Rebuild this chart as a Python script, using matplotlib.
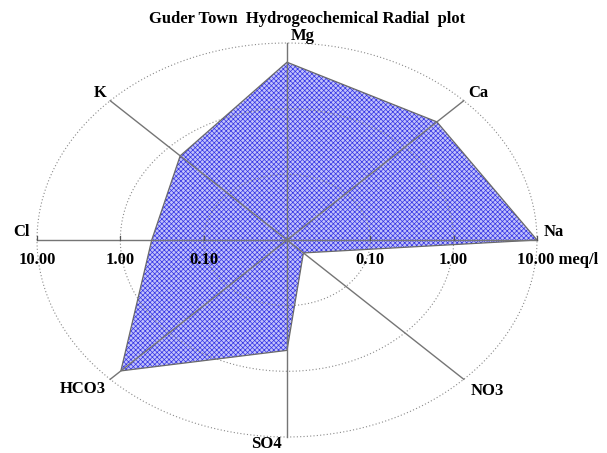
import numpy as np
import matplotlib.pyplot as plt
from matplotlib.patches import Polygon

# ion concentrations (meq/l), one spoke per ion
ions = ["Na", "Ca", "Mg", "K", "Cl", "HCO3", "SO4", "NO3"]
angles_deg = [0, 45, 90, 135, 180, 225, 270, 315]
conc = [10.0, 3.5, 5.1, 0.65, 0.42, 6.6, 0.48, 0.019]

tick_values = [0.10, 1.00, 10.00]
LOG_MIN = -2  # radius 0 sits at 0.01 meq/l


def to_radius(v):
    # log scale radius, one unit per decade
    return np.log10(v) - LOG_MIN


plt.rcParams['font.family'] = ['Liberation Serif', 'DejaVu Serif']
plt.rcParams['font.weight'] = 'bold'
plt.rcParams['hatch.linewidth'] = 0.5

FS = 12

fig = plt.figure(figsize=(6.07, 4.53), dpi=100)
ax = fig.add_axes([0, 0, 1, 1])
ax.set_xlim(-3.444, 3.84)
ax.set_ylim(-3.244, 3.655)
ax.axis('off')

theta = np.radians(angles_deg)
r = to_radius(np.array(conc))
xs = r * np.cos(theta)
ys = r * np.sin(theta)

# hatched blue fill + grey outline
fill = Polygon(np.column_stack([xs, ys]), closed=True, facecolor='#c2c2fb',
               edgecolor='#3434e4', hatch='xxxxxxx', linewidth=0, zorder=1)
ax.add_patch(fill)
outline = Polygon(np.column_stack([xs, ys]), closed=True, fill=False,
                  edgecolor='#6a6a6a', linewidth=0.9, zorder=3)
ax.add_patch(outline)

# dotted rings at each decade
t = np.linspace(0, 2 * np.pi, 400)
for tv in tick_values:
    rr = to_radius(tv)
    ax.plot(rr * np.cos(t), rr * np.sin(t), linestyle=(0, (1, 2)),
            color='#8a8a8a', linewidth=0.8, zorder=2)

# spokes
rmax = to_radius(tick_values[-1])
for a in theta:
    ax.plot([0, rmax * np.cos(a)], [0, rmax * np.sin(a)],
            color='#757575', linewidth=1.0, zorder=4)

# tick marks on the horizontal axis
for tv in tick_values:
    rr = to_radius(tv)
    for sgn in (1, -1):
        ax.plot([sgn * rr, sgn * rr], [0, 0.06], color='#555555',
                linewidth=0.9, zorder=4)

# tick labels below the horizontal axis
for tv in tick_values:
    rr = to_radius(tv)
    ax.text(-rr, -0.31, f"{tv:.2f}", ha='center', va='center', fontsize=FS)
    if tv < tick_values[-1]:
        ax.text(rr, -0.31, f"{tv:.2f}", ha='center', va='center', fontsize=FS)
ax.text(rmax - 0.24, -0.31, f"{tick_values[-1]:.2f} meq/l", ha='left',
        va='center', fontsize=FS)

# ion names around the rim
label_pos = {
    "Na": (3.2, 0.12),
    "Ca": (2.3, 2.24),
    "Mg": (0.19, 3.11),
    "K": (-2.24, 2.24),
    "Cl": (-3.18, 0.12),
    "HCO3": (-2.45, -2.27),
    "SO4": (-0.25, -3.1),
    "NO3": (2.4, -2.3),
}
for name in ions:
    px, py = label_pos[name]
    ax.text(px, py, name, ha='center', va='center', fontsize=FS)

ax.text(0.24, 3.36, "Guder Town  Hydrogeochemical Radial  plot",
        ha='center', va='center', fontsize=FS)

fig.savefig("out.png", dpi=100)
